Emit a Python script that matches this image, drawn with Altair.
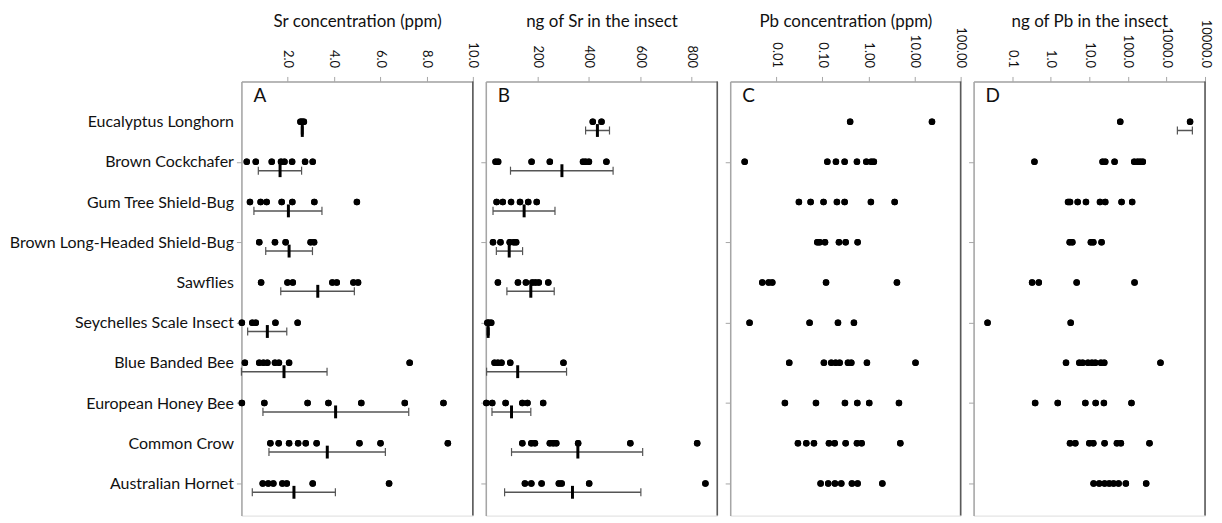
import altair as alt
import pandas as pd

CATEGORIES = [
    "Eucalyptus Longhorn", "Brown Cockchafer", "Gum Tree Shield-Bug",
    "Brown Long-Headed Shield-Bug", "Sawflies", "Seychelles Scale Insect",
    "Blue Banded Bee", "European Honey Bee", "Common Crow", "Australian Hornet",
]

# Panel A: Sr concentration (ppm)
SR_CONC = [
    [2.55, 2.62, 2.70],
    [0.23, 0.62, 1.31, 1.71, 1.86, 2.19, 2.75, 3.08],
    [0.37, 0.83, 1.09, 1.74, 2.20, 3.15, 4.99],
    [0.77, 1.45, 1.91, 2.99, 3.14],
    [0.85, 1.99, 2.22, 3.93, 4.12, 4.84, 5.04],
    [0.02, 0.47, 0.62, 1.47, 2.43],
    [0.15, 0.77, 0.95, 1.12, 1.45, 1.62, 2.06, 7.27],
    [0.02, 0.99, 2.86, 3.76, 5.18, 7.06, 8.73],
    [1.25, 1.61, 2.06, 2.45, 2.78, 3.25, 5.10, 6.01, 8.92],
    [0.92, 1.16, 1.38, 1.77, 1.96, 3.08, 6.38],
]
SR_CONC_MEAN = [2.63, 1.67, 2.03, 2.06, 3.30, 1.12, 1.84, 4.07, 3.71, 2.27]
SR_CONC_LO = [2.59, 0.73, 0.54, 1.05, 1.70, 0.27, 0.00, 0.93, 1.19, 0.47]
SR_CONC_HI = [2.67, 2.60, 3.48, 3.07, 4.88, 1.96, 3.70, 7.23, 6.22, 4.06]

# Panel B: ng of Sr in the insect
SR_NG = [
    [416, 450],
    [38, 48, 178, 249, 378, 388, 401, 469],
    [42, 66, 98, 133, 165, 198],
    [28, 57, 93, 109, 118],
    [47, 125, 156, 181, 193, 206, 243],
    [6, 12, 21],
    [34, 47, 61, 95, 302],
    [2, 25, 77, 142, 162, 223],
    [142, 177, 191, 249, 262, 274, 359, 562, 822],
    [152, 177, 217, 284, 295, 402, 854],
]
SR_NG_MEAN = [434, 296, 149, 91, 175, 9, 124, 100, 358, 337]
SR_NG_LO = [388, 96, 28, 41, 82, 4, 3, 24, 100, 73]
SR_NG_HI = [481, 495, 269, 143, 266, 14, 314, 175, 610, 603]

# Panel C: Pb concentration (ppm)
PB_CONC = [
    [0.40, 23.9],
    [0.00206, 0.128, 0.197, 0.304, 0.563, 0.897, 1.15, 1.31],
    [0.031, 0.0556, 0.106, 0.207, 0.304, 1.13, 3.70],
    [0.0776, 0.0871, 0.114, 0.229, 0.320, 0.582],
    [0.00497, 0.00682, 0.00819, 0.120, 4.15],
    [0.00263, 0.0528, 0.218, 0.484],
    [0.0191, 0.108, 0.156, 0.194, 0.237, 0.359, 0.424, 0.927, 10.5],
    [0.0154, 0.0726, 0.309, 0.573, 1.04, 4.59],
    [0.0295, 0.0448, 0.0657, 0.139, 0.185, 0.320, 0.563, 0.711, 4.91],
    [0.0916, 0.134, 0.187, 0.257, 0.438, 0.582, 2.00],
]

# Panel D: ng of Pb in the insect
PB_NG = [
    [63.4, 4093],
    [0.378, 22.1, 25.9, 45.2, 146, 178, 208, 244],
    [2.81, 3.16, 4.99, 8.20, 18.9, 25.9, 68.6, 129],
    [3.10, 3.63, 11.0, 12.7, 20.8],
    [0.329, 0.490, 4.70, 149],
    [0.023, 3.29],
    [2.49, 5.51, 6.72, 9.24, 11.7, 14.3, 20.0, 24.4, 700],
    [0.394, 1.52, 7.89, 14.6, 23.9, 124],
    [3.16, 4.34, 10.0, 12.7, 24.9, 52.0, 65.9, 363],
    [12.9, 18.1, 24.9, 32.9, 42.6, 57.4, 88.7, 298],
]
PB_NG_ERR_CATEGORY = [1]
PB_NG_LO = [1920]
PB_NG_HI = [4700]

FONT = "Lato"
GREY = "#a6a6a6"
N = len(CATEGORIES)
YMAX = 10.8
ROW = 40.3


def points_df(values):
    rows = []
    for i, vals in enumerate(values):
        for v in vals:
            rows.append({"pos": i + 1, "value": v})
    return pd.DataFrame(rows)


def err_df(positions, lo, hi, mean=None):
    rows = []
    for k, p in enumerate(positions):
        r = {"pos": p, "lo": lo[k], "hi": hi[k]}
        if mean is not None:
            r["mean"] = mean[k]
        rows.append(r)
    return pd.DataFrame(rows)


label_array = "[" + ",".join("'" + c + "'" for c in CATEGORIES) + "]"


def panel(values, err, title, letter, xscale, ticks, fmt, show_labels, width):
    yscale = alt.Scale(domain=[0, YMAX], reverse=True, nice=False, zero=False)
    yaxis = alt.Axis(
        values=list(range(1, N + 1)),
        labels=show_labels,
        labelExpr=label_array + "[round(datum.value) - 1]",
        labelFontSize=16,
        labelFont=FONT,
        labelColor="#111111",
        labelPadding=3,
        labelLimit=0,
        title=None,
        grid=False,
        domainColor=GREY,
        domainWidth=1.5,
        tickColor=GREY,
        tickSize=5,
        tickOpacity={"condition": {"test": "round(datum.value) % 2 == 0", "value": 1}, "value": 0},
    )
    xaxis = alt.Axis(
        orient="top",
        values=ticks,
        format=fmt,
        labelAngle=90,
        labelAlign="right",
        labelBaseline="middle",
        labelFontSize=13,
        labelFont=FONT,
        labelColor="#111111",
        labelPadding=9,
        labelOverlap=False,
        labelFlush=False,
        grid=False,
        domainColor=GREY,
        domainWidth=1.5,
        tickColor=GREY,
        tickSize=5,
        title=title,
        titleFont=FONT,
        titleFontSize=17,
        titleFontWeight="normal",
        titleColor="#111111",
        titleBaseline="middle",
        titleY=-60,
    )
    base_pts = alt.Chart(points_df(values)).mark_circle(size=42, color="black", opacity=1).encode(
        x=alt.X("value:Q", scale=xscale, axis=xaxis, title=title),
        y=alt.Y("pos:Q", scale=yscale, axis=yaxis, title=None),
    )
    layers = []
    if err is not None:
        ebase = alt.Chart(err).transform_calculate(
            ey="datum.pos + 0.22", cy1="datum.pos + 0.12", cy2="datum.pos + 0.32",
            my1="datum.pos + 0.06", my2="datum.pos + 0.38",
        )
        line = ebase.mark_rule(color="#555555", strokeWidth=1.5).encode(
            x=alt.X("lo:Q", scale=xscale, axis=xaxis, title=title),
            x2="hi:Q",
            y=alt.Y("ey:Q", scale=yscale, axis=yaxis, title=None),
        )
        caps = ebase.transform_fold(["lo", "hi"], as_=["k", "cv"]).mark_rule(
            color="#555555", strokeWidth=1.2
        ).encode(
            x=alt.X("cv:Q", scale=xscale, axis=xaxis, title=title),
            y=alt.Y("cy1:Q", scale=yscale, axis=yaxis, title=None),
            y2="cy2:Q",
        )
        layers += [line, caps]
        if "mean" in err.columns:
            mean = ebase.mark_rule(color="black", strokeWidth=3).encode(
                x=alt.X("mean:Q", scale=xscale, axis=xaxis, title=title),
                y=alt.Y("my1:Q", scale=yscale, axis=yaxis, title=None),
                y2="my2:Q",
            )
            layers.append(mean)
    border = alt.Chart(pd.DataFrame({"v": [0]})).mark_rule(color="#5a5a5a", strokeWidth=1.6).encode(
        x=alt.value(width), y=alt.value(0), y2=alt.value(YMAX * ROW)
    )
    letter_mark = alt.Chart(pd.DataFrame({"t": [letter]})).mark_text(
        align="left", baseline="alphabetic", fontSize=19, font=FONT, color="#111111"
    ).encode(x=alt.value(12), y=alt.value(21), text="t:N")
    return alt.layer(base_pts, *layers, base_pts, border, letter_mark).properties(
        width=width, height=YMAX * ROW
    )


pA = panel(SR_CONC, err_df(list(range(1, N + 1)), SR_CONC_LO, SR_CONC_HI, SR_CONC_MEAN),
           "Sr concentration (ppm)", "A",
           alt.Scale(domain=[0, 10], nice=False, zero=False),
           [2, 4, 6, 8, 10], ".1f", True, 232)
pB = panel(SR_NG, err_df(list(range(1, N + 1)), SR_NG_LO, SR_NG_HI, SR_NG_MEAN),
           "ng of Sr in the insect", "B",
           alt.Scale(domain=[0, 900], nice=False, zero=False),
           [200, 400, 600, 800], "d", False, 232)
pC = panel(PB_CONC, None, "Pb concentration (ppm)", "C",
           alt.Scale(type="log", domain=[0.001, 100], nice=False),
           [0.01, 0.1, 1, 10, 100], ".2f", False, 231)
pD = panel(PB_NG, err_df(PB_NG_ERR_CATEGORY, PB_NG_LO, PB_NG_HI),
           "ng of Pb in the insect", "D",
           alt.Scale(type="log", domain=[0.01, 10000], nice=False),
           [0.1, 1, 10, 100, 1000, 10000], ".1f", False, 232)

chart = alt.hconcat(pA, pB, pC, pD, spacing=13, bounds="flush").properties(
    padding={"left": 0, "top": 3, "right": 2, "bottom": 0}
).configure_view(stroke=None).configure(background="white")

chart.save("out.html", embed_options={"renderer": "svg", "actions": False})
